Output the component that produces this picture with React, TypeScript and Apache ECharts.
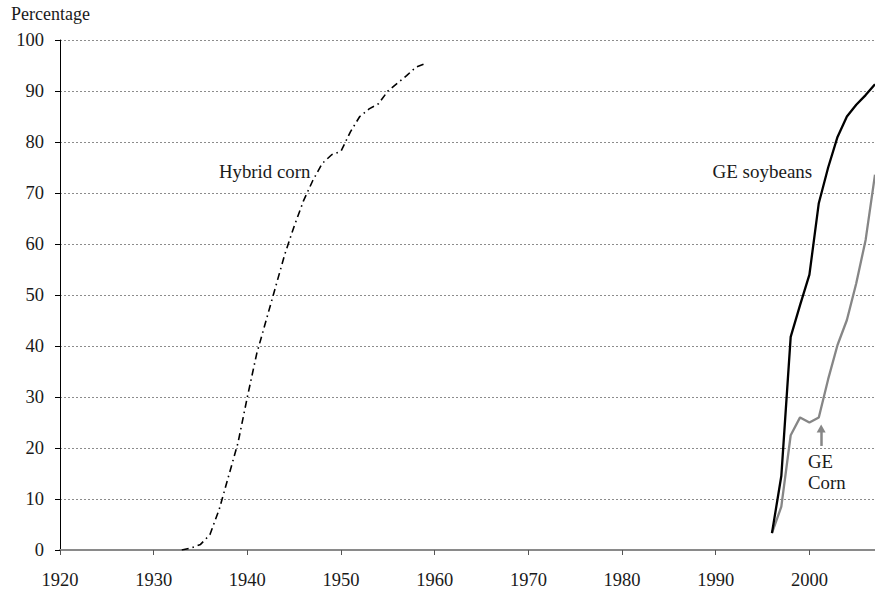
import React, { useEffect, useRef } from 'react';
import * as echarts from 'echarts';

const hybridYears = [1933, 1934, 1935, 1936, 1937, 1938, 1939, 1940, 1941, 1942, 1943, 1944, 1945, 1946, 1947, 1948, 1949, 1950, 1951, 1952, 1953, 1954, 1955, 1956, 1957, 1958, 1959];
const hybridCorn = [0, 0.4, 1.1, 3.0, 8.0, 14.5, 21.0, 30.0, 38.5, 45.0, 51.5, 58.0, 63.5, 68.5, 72.5, 75.8, 77.5, 78.2, 82.0, 85.0, 86.5, 87.5, 90.0, 91.5, 93.0, 94.7, 95.4];

const geYears = [1996, 1997, 1998, 1999, 2000, 2001, 2002, 2003, 2004, 2005, 2006, 2007];
const geSoybeans = [3.3, 14.5, 41.8, 48.0, 54.0, 68.0, 75.0, 81.0, 85.0, 87.3, 89.2, 91.3];
const geCorn = [3.3, 8.5, 22.5, 26.0, 25.0, 26.0, 33.5, 40.2, 45.1, 52.3, 60.8, 73.6];

const xTickValues = [1920, 1930, 1940, 1950, 1960, 1970, 1980, 1990, 2000];

const FONT = 'serif';
const TEXT = '#1a1a1a';

export default function App() {
  const ref = useRef<HTMLDivElement>(null);
  useEffect(() => {
    document.body.style.margin = '0';
    const chart = echarts.init(ref.current as HTMLDivElement, null, { renderer: 'svg' });
    const pairs = (xs: number[], ys: number[]) => xs.map((x, i) => [x, ys[i]]);
    const txt = (text: string, x: number, y: number, size: number) => ({
      type: 'text',
      x,
      y,
      style: { text, fontFamily: FONT, fontSize: size, fill: TEXT, verticalAlign: 'middle' },
    });
    chart.setOption({
      animation: false,
      backgroundColor: '#ffffff',
      textStyle: { fontFamily: FONT },
      grid: { left: 60, right: 0, top: 40, bottom: 41, containLabel: false },
      xAxis: {
        type: 'value',
        min: 1920,
        max: 2007,
        interval: 10,
        axisLine: { show: true, onZero: false, lineStyle: { color: '#8a8a8a', width: 2 } },
        axisTick: { show: true, length: 5, customValues: xTickValues, lineStyle: { color: '#555555', width: 1 } },
        axisLabel: {
          customValues: xTickValues,
          formatter: (v: number) => String(v),
          margin: 20,
          fontFamily: FONT,
          fontSize: 18.5,
          color: TEXT,
        },
        splitLine: { show: false },
      },
      yAxis: {
        type: 'value',
        min: 0,
        max: 100,
        interval: 10,
        axisLine: { show: true, lineStyle: { color: '#000000', width: 1 } },
        axisTick: { show: true, length: 5, lineStyle: { color: '#000000', width: 1 } },
        axisLabel: { margin: 16, fontFamily: FONT, fontSize: 18.5, color: TEXT, formatter: (v: number) => String(v) },
        splitLine: { show: true, lineStyle: { color: '#8c8c8c', width: 1, type: [2, 2] } },
      },
      series: [
        {
          name: 'Hybrid corn',
          type: 'line',
          data: pairs(hybridYears, hybridCorn),
          symbol: 'none',
          lineStyle: { color: '#000000', width: 1.6, type: [7, 4, 1.5, 4] },
          z: 3,
        },
        {
          name: 'GE soybeans',
          type: 'line',
          data: pairs(geYears, geSoybeans),
          symbol: 'none',
          lineStyle: { color: '#000000', width: 2.3 },
          z: 4,
        },
        {
          name: 'GE Corn',
          type: 'line',
          data: pairs(geYears, geCorn),
          symbol: 'none',
          lineStyle: { color: '#868686', width: 2.3 },
          z: 3,
          markLine: {
            silent: true,
            symbol: ['none', 'triangle'],
            symbolSize: [9, 8],
            label: { show: false },
            lineStyle: { color: '#868686', width: 2.5, type: 'solid' },
            data: [[{ coord: [2001.25, 20.4] }, { coord: [2001.25, 23.8] }]],
          },
        },
      ],
      graphic: [
        txt('Percentage', 11, 14, 18),
        txt('Hybrid corn', 219, 171, 18.8),
        txt('GE soybeans', 712.5, 171, 19),
        txt('GE', 808, 461.5, 18.8),
        txt('Corn', 808, 482.8, 18.8),
      ],
    });
    return () => chart.dispose();
  }, []);
  return <div ref={ref} style={{ width: 875, height: 591 }} />;
}
